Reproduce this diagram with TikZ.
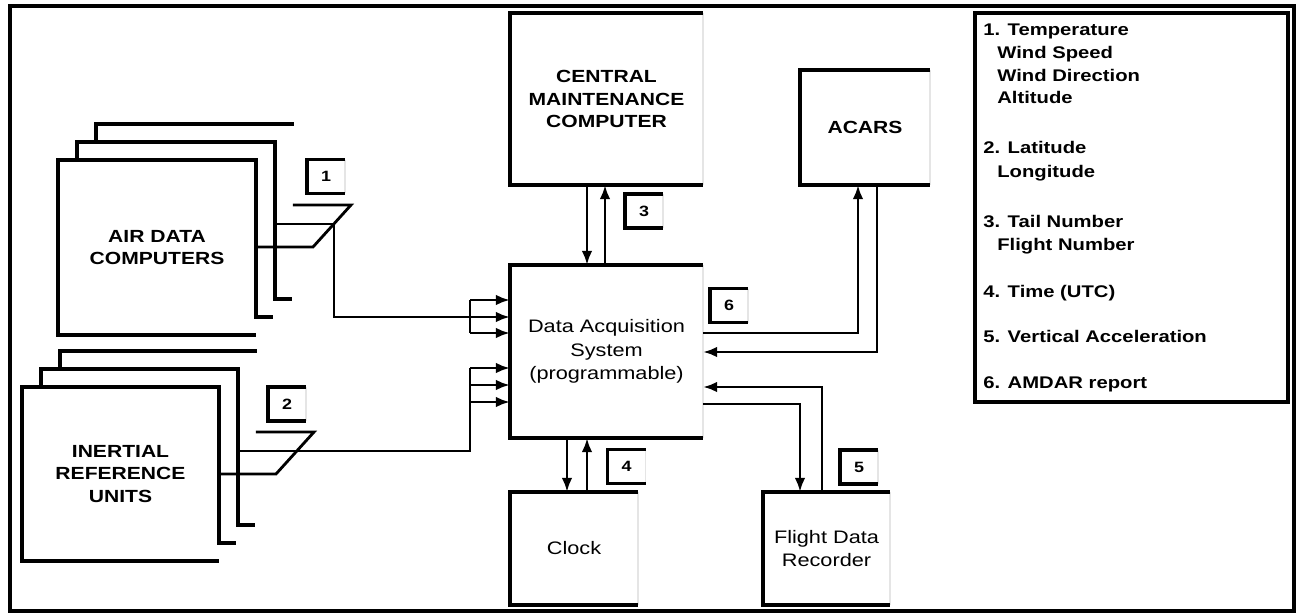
\documentclass[tikz,border=0pt]{standalone}
\usepackage{fontspec}
\setmainfont{Liberation Sans}[FakeStretch=1.2]
\usetikzlibrary{arrows.meta, calc}
\tikzset{
  unit/.style={rectangle, inner sep=0pt, outer sep=0pt, align=center, font=\bfseries\fontsize{10}{13}\selectfont},
  plain/.style={unit, font=\fontsize{10.3}{13.4}\selectfont},
  tag/.style={rectangle, inner sep=0pt, outer sep=0pt, minimum width=0.76cm, minimum height=0.68cm, font=\bfseries\fontsize{8.5}{9}\selectfont},
  edge/.style={line width=2pt},
  faint/.style={line width=0.6pt, black!10},
  wire/.style={line width=1.6pt},
  arrow/.style={wire, -{Latex[length=8pt, width=6pt]}},
  legtext/.style={anchor=base west, inner sep=0pt, font=\bfseries\fontsize{9.6}{12}\selectfont}
}
% box with thick left, top and bottom edge
\newcommand{\openbox}[1]{%
  \draw[faint] (#1.north east) -- (#1.south east);
  \draw[edge] (#1.north east) -- (#1.north west) -- (#1.south west) -- (#1.south east);
}
% three units stacked behind each other
\newcommand{\boxstack}[1]{%
  \draw[edge] ($(#1.south east)+(17,-18)$) -- ($(#1.south east)+(0,-18)$) -- (#1.north east) -- (#1.north west) -- (#1.south west) -- (#1.south east);
  \draw[edge] ($(#1.south east)+(36,-36)$) -- ($(#1.south east)+(19,-36)$) -- ($(#1.north east)+(19,-18)$) -- ($(#1.north west)+(19,-18)$) -- ($(#1.north west)+(19,0)$);
  \draw[edge] ($(#1.north east)+(38,-36)$) -- ($(#1.north west)+(38,-36)$) -- ($(#1.north west)+(38,-18)$);
}
% outputs of the three units merged
\newcommand{\mux}[1]{%
  \draw[wire] ($(#1.north east)+(37,45)$) -- ($(#1.north east)+(95,45)$) -- ($(#1.north east)+(57,87)$) -- ($(#1.north east)+(0,87)$);
  \draw[wire] ($(#1.north east)+(19,64)$) -- ($(#1.north east)+(78,64)$) coordinate (#1-out);
}

\begin{document}
\begin{tikzpicture}[x=0.02cm, y=-0.02cm]

  \fill[white] (0,0) rectangle (1300,612);
  \useasboundingbox (0,0) rectangle (1300,612);
  \draw[edge] (10,6) rectangle (1294,611);

  % Units
  \node[unit, minimum width=3.86cm, minimum height=3.44cm] (cmc) at (606.5,99) {CENTRAL\\MAINTENANCE\\COMPUTER};
  \node[unit, minimum width=2.6cm, minimum height=2.3cm] (acars) at (865,127.5) {ACARS};
  \node[plain, minimum width=3.86cm, minimum height=3.46cm] (das) at (606.5,351.5) {Data Acquisition\\System\\(programmable)};
  \node[plain, minimum width=2.56cm, minimum height=2.26cm] (clock) at (574,548.5) {Clock};
  \node[plain, minimum width=2.54cm, minimum height=2.26cm] (fdr) at (826.5,548.5) {Flight Data\\Recorder};
  \node[unit, minimum width=3.96cm, minimum height=3.5cm] (adc) at (157,247.5) {AIR DATA\\COMPUTERS};
  \node[unit, minimum width=3.94cm, minimum height=3.48cm] (iru) at (120.5,474) {INERTIAL\\REFERENCE\\UNITS};

  \foreach \n in {cmc, acars, das, clock, fdr} {\openbox{\n}}
  \boxstack{adc}
  \boxstack{iru}
  \mux{adc}
  \mux{iru}

  % Data tags
  \node[tag] (t1) at (326,176.5) {1};
  \node[tag] (t2) at (287,404) {2};
  \node[tag] (t3) at (644,211) {3};
  \node[tag] (t4) at (626.5,466.5) {4};
  \node[tag] (t5) at (859,467) {5};
  \node[tag] (t6) at (729,305.5) {6};
  \foreach \n in {t1, t2, t3, t4, t5, t6} {\openbox{\n}}

  % Inputs to the acquisition system
  \coordinate (adcbus) at (470,317);
  \coordinate (irubus) at (iru-out -| 470,0);
  \draw[wire] (adc-out) |- (adcbus);
  \draw[wire] (470,300) -- (470,333);
  \draw[wire] (iru-out) -- (irubus) -- (470,368);
  \foreach \y in {300,317,333,368,385,402} {
    \draw[arrow] (470,\y) -- (das.west |- 0,\y);
  }

  % Links to the other units
  \draw[arrow] (cmc.south -| 587,0) -- (das.north -| 587,0);
  \draw[arrow] (das.north -| 605,0) -- (cmc.south -| 605,0);
  \draw[arrow] (das.south -| 567,0) -- (clock.north -| 567,0);
  \draw[arrow] (clock.north -| 587,0) -- (das.south -| 587,0);
  \draw[arrow] (das.east |- 0,333) -| (acars.south -| 858,0);
  \draw[arrow] (acars.south -| 877,0) |- (das.east |- 0,352);
  \draw[arrow] (fdr.north -| 822,0) |- (das.east |- 0,387);
  \draw[arrow] (das.east |- 0,404) -| (fdr.north -| 800,0);

  % Legend
  \draw[edge] (975,13) rectangle (1288,402);
  \foreach \x/\y/\txt in {983/35/{1. Temperature}, 997/58/{Wind Speed}, 997/81/{Wind Direction}, 997/103/{Altitude},
      983/153/{2. Latitude}, 997/177/{Longitude}, 983/227/{3. Tail Number}, 997/250/{Flight Number},
      983/297/{4. Time (UTC)}, 983/342/{5. Vertical Acceleration}, 983/388/{6. AMDAR report}} {
    \node[legtext] (leg\y) at (\x,\y) {\txt};
  }

\end{tikzpicture}
\end{document}
